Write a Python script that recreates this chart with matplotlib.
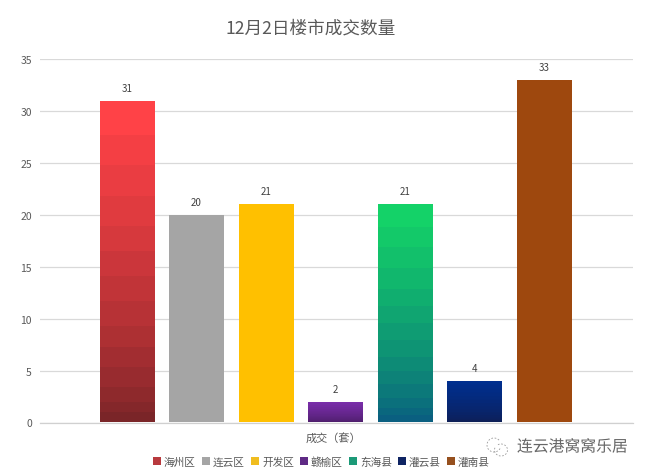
import matplotlib
matplotlib.use("Agg")
import matplotlib.pyplot as plt
import matplotlib.patheffects as pe
from matplotlib.colors import LinearSegmentedColormap
from matplotlib.patches import Arc, Rectangle
import numpy as np

plt.rcParams['font.family'] = ['Noto Sans CJK SC', 'DejaVu Sans']

districts = ["海州区", "连云区", "开发区", "赣榆区", "东海县", "灌云县", "灌南县"]
counts = [31, 20, 21, 2, 21, 4, 33]
# couleur haut / bas de chaque barre
top_colors = ["#ff4247", "#a5a5a5", "#ffc000", "#7a2eaa", "#14d268", "#002f8e", "#9e480e"]
bottom_colors = ["#7a2528", "#a5a5a5", "#ffc000", "#4e1e6c", "#0a5f80", "#0e1f57", "#9e480e"]
legend_colors = ["#b83a3e", "#a5a5a5", "#f0bd20", "#5f2a85", "#1c9a78", "#0f2463", "#96501e"]
yticks = [0, 5, 10, 15, 20, 25, 30, 35]

W, H = 649, 477
fig = plt.figure(figsize=(W / 100, H / 100), dpi=100)
ax = fig.add_axes([40 / W, 1 - 423.5 / H, (633 - 40) / W, (423.5 - 60) / H])

x = np.arange(len(counts))
bar_w = 0.78
for i, v in enumerate(counts):
    bar = ax.bar(x[i], v, width=bar_w, facecolor="none", zorder=2)[0]
    # degrade en bandes, comme dans l'original
    cmap = LinearSegmentedColormap.from_list("g", [bottom_colors[i], top_colors[i]], N=14)
    im = ax.imshow((np.linspace(0, 1, 64) ** 0.7).reshape(-1, 1), origin="lower", cmap=cmap,
                   extent=(x[i] - bar_w / 2, x[i] + bar_w / 2, 0, v), aspect="auto", zorder=3)
    im.set_clip_path(bar)
    ax.text(x[i], v + 1.25, str(v), ha="center", va="center", fontsize=7, color="#404040", zorder=4)

ax.set_xlim(-1.25, 7.28)
ax.set_ylim(0, 35)
ax.set_yticks(yticks)
ax.set_xticks([])
ax.tick_params(axis="y", length=0, labelsize=7.5, labelcolor="#595959", pad=5.8)
ax.grid(axis="y", color="#d9d9d9", linewidth=0.9, zorder=0)
ax.set_axisbelow(True)
for s in ["top", "right", "left"]:
    ax.spines[s].set_visible(False)
ax.spines["bottom"].set_color("#d0d0d0")
ax.spines["bottom"].set_linewidth(0.9)

fig.text(311 / W, 1 - 28.5 / H, "12月2日楼市成交数量", ha="center", va="center", fontsize=12.7, color="#595959")
fig.text(333 / W, 1 - 438 / H, "成交（套）", ha="center", va="center", fontsize=8, color="#595959")

overlay = fig.add_axes([0, 0, 1, 1], facecolor="none")
overlay.set_xlim(0, W)
overlay.set_ylim(H, 0)
overlay.axis("off")

# legende a la main, pour garder tous les libelles sur la meme ligne
for i, (c, d) in enumerate(zip(legend_colors, districts)):
    x0 = 153 + 49 * i
    overlay.add_patch(Rectangle((x0, 458), 8, 8, facecolor=c, edgecolor="none"))
    overlay.text(x0 + 11, 462, d, ha="left", va="center_baseline", fontsize=7.7, color="#595959")

# filigrane
wm = fig.text(572.5 / W, 1 - 448 / H, "连云港窝窝乐居", ha="center", va="center", fontsize=11.4, color="#666666", zorder=10)
wm.set_path_effects([pe.withStroke(linewidth=1.5, foreground="white")])
overlay.add_patch(Arc((494, 446), 14, 14, theta1=30, theta2=320, color="#999999", lw=0.6, ls=(0, (2, 2))))
overlay.add_patch(Arc((501, 451), 13, 12, theta1=-120, theta2=200, color="#999999", lw=0.6, ls=(0, (2, 2))))

fig.savefig("out.png", dpi=100)
